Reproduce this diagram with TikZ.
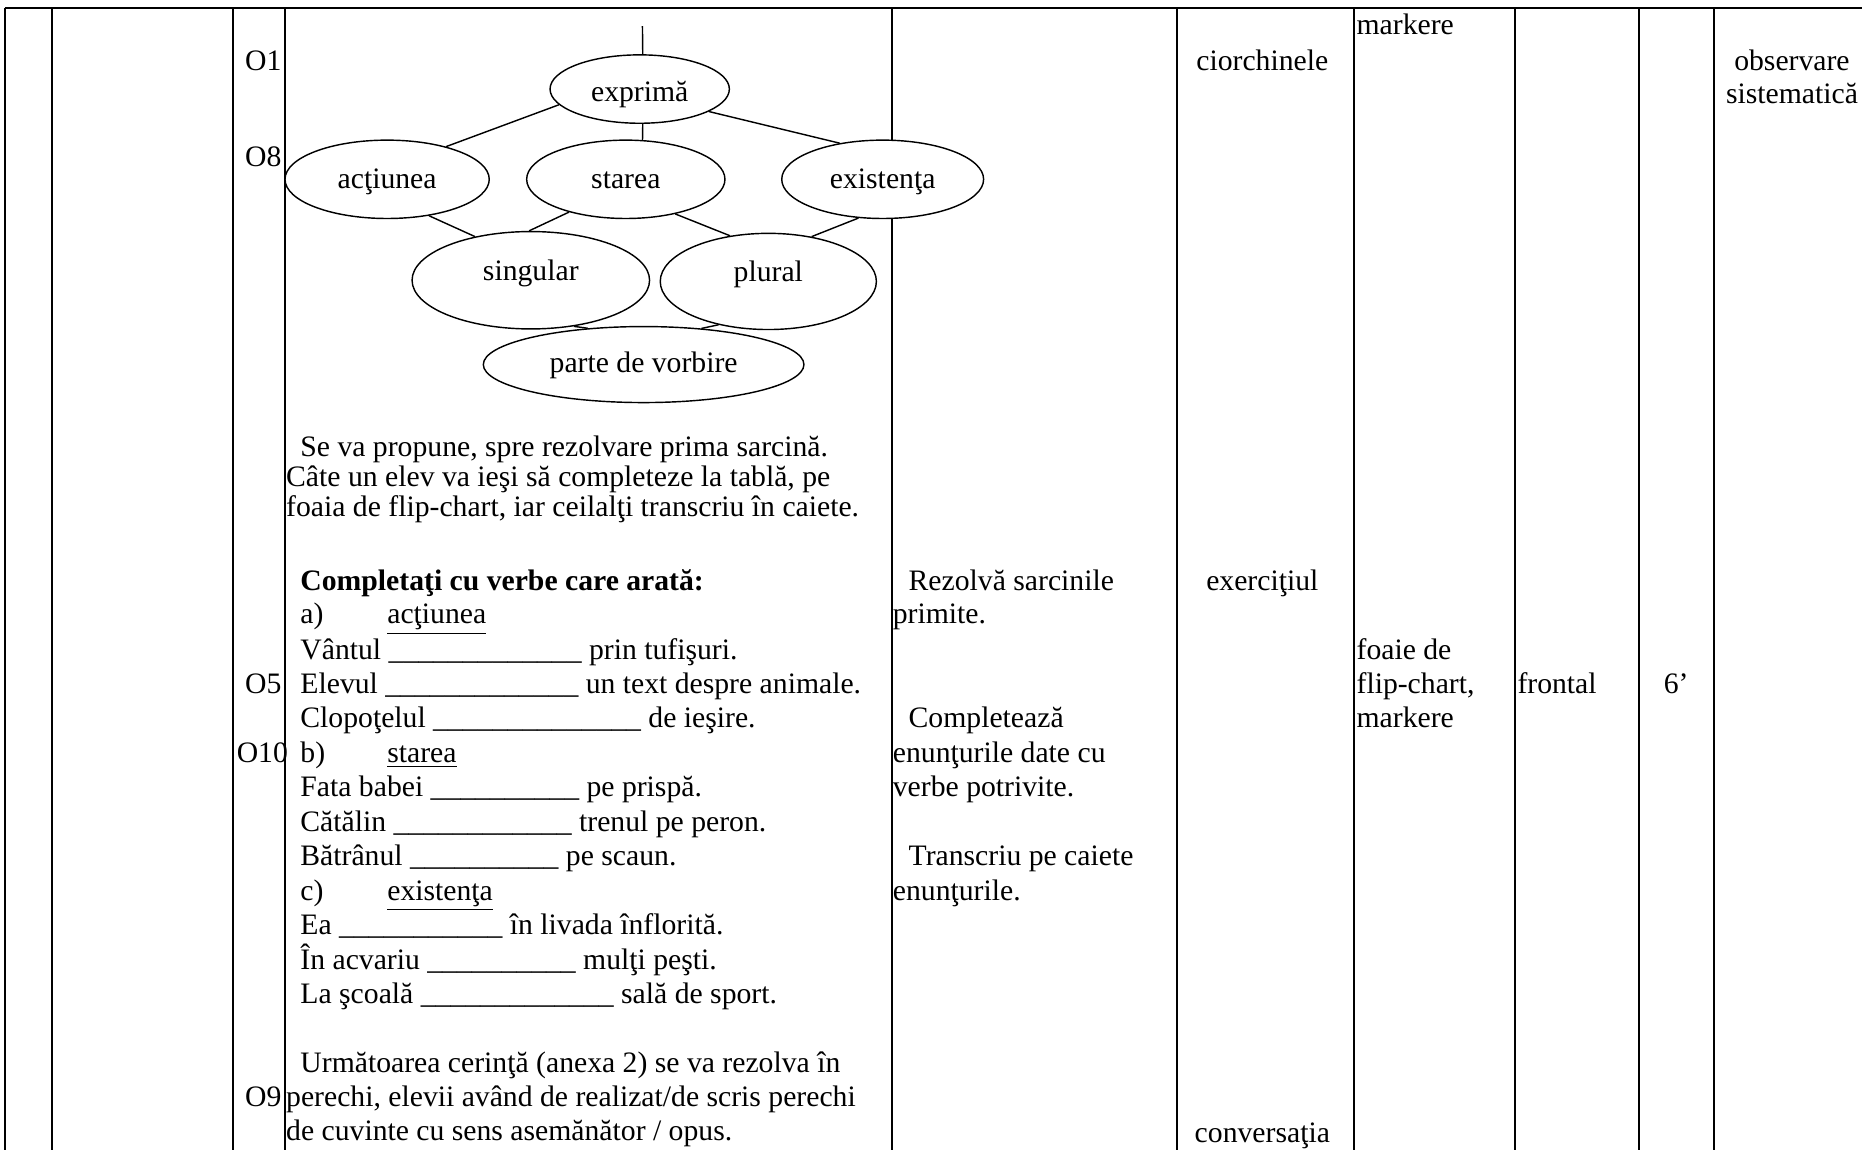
\documentclass[tikz,border=0pt]{standalone}
\usepackage{fontspec}
\setmainfont{Liberation Serif}
\usetikzlibrary{shapes.geometric}

\newcommand{\gol}[1]{\foreach \i in {1,...,#1}{\_}}

\begin{document}
\fontsize{12.5}{14.5}\selectfont
\begin{tikzpicture}[x=0.5pt, y=-0.5pt,
	every node/.style={inner sep=0pt},
	txt/.style={anchor=base west},
	mid/.style={anchor=base},
	bubble/.style={ellipse, draw, fill=white, line width=0.6pt, text height=7.6pt, text depth=0pt},
	link/.style={line width=0.6pt}]

\useasboundingbox (0,0) rectangle (1568,968);

\draw[line width=0.85pt] (4,6.5) -- (1568,6.5);
\foreach \x in {4, 44, 196, 240, 751, 991, 1140, 1276, 1380, 1443}
   \draw[line width=0.85pt] (\x,6.5) -- (\x,968);


\node[bubble, minimum width=75.5pt, minimum height=28.8pt, text height=10.6pt] (exprima) at (538.7,75) {exprimă};
\node[bubble, minimum width=86pt, minimum height=33pt] (actiunea) at (326,151) {acţiunea};
\node[bubble, minimum width=83.5pt, minimum height=33pt] (starea) at (527,151) {starea};
\node[bubble, minimum width=85pt, minimum height=33pt] (existenta) at (743.3,151) {existenţa};
\node[bubble, minimum width=100pt, minimum height=41pt, text height=4pt, text depth=4pt] (singular) at (447,236) {singular};
\node[bubble, minimum width=91pt, minimum height=40.5pt, text height=4pt, text depth=4pt] (plural) at (647,237) {plural};
\node[bubble, minimum width=135pt, minimum height=32pt, text height=7pt] (parte) at (542,307) {parte de vorbire};

\coordinate (stub) at (541,22);
\draw[link] (stub) -- (exprima.85);
\draw[link] (exprima.191) -- (actiunea.29);
\draw[link] (exprima.275) -- (starea.67);
\draw[link] (exprima.342) -- (existenta.140);
\draw[link] (actiunea.319) -- (singular.142);
\draw[link] (starea.210) -- (singular.92);
\draw[link] (starea.325) -- (plural.130);
\draw[link] (existenta.238) -- (plural.46);
\draw[link] (singular.313) -- (parte.147);
\draw[link] (plural.221) -- (parte.32);

%\draw (240,330) -- (751,330);

\node[txt] (o1) at (206,59) {O1};
\node[txt] (o8) at (206,140) {O8};
\node[txt] (o5) at (206,584) {O5};
\node[txt] (o10) at (199,642) {O10};
\node[txt] (o9) at (206,932) {O9};

\node[txt] (p1a) at (252.6,384) {Se va propune, spre rezolvare prima sarcină.};
\node[txt] (p1b) at (240.6,410) {Câte un elev va ieşi să completeze la tablă, pe};
\node[txt] (p1c) at (240.6,435) {foaia de flip-chart, iar ceilalţi transcriu în caiete.};

\node[txt, font=\bfseries] (cerinta) at (252.6,497) {Completaţi cu verbe care arată:};
\node[txt] (ia) at (252.6,525) {a)};
\node[txt] (ta) at (325.8,525) {\underline{acţiunea}};
\node[txt] (e1) at (252.6,555) {Vântul \gol{13} prin tufişuri.};
\node[txt] (e2) at (252.6,584) {Elevul \gol{13} un text despre animale.};
\node[txt] (e3) at (252.6,613) {Clopoţelul \gol{14} de ieşire.};
\node[txt] (ib) at (252.6,642) {b)};
\node[txt] (tb) at (325.8,642) {\underline{starea}};
\node[txt] (e4) at (252.6,671) {Fata babei \gol{10} pe prispă.};
\node[txt] (e5) at (252.6,700) {Cătălin \gol{12} trenul pe peron.};
\node[txt] (e6) at (252.6,729) {Bătrânul \gol{10} pe scaun.};
\node[txt] (ic) at (252.6,758) {c)};
\node[txt] (tc) at (325.8,758) {\underline{existenţa}};
\node[txt] (e7) at (252.6,787) {Ea \gol{11} în livada înflorită.};
\node[txt] (e8) at (252.6,816) {În acvariu \gol{10} mulţi peşti.};
\node[txt] (e9) at (252.6,845) {La şcoală \gol{13} sală de sport.};

\node[txt] (p2a) at (252.6,903) {Următoarea cerinţă (anexa 2) se va rezolva în};
\node[txt] (p2b) at (240.6,932) {perechi, elevii având de realizat/de scris perechi};
\node[txt] (p2c) at (240.6,960) {de cuvinte cu sens asemănător / opus.};

\node[txt] (r1) at (764.8,497) {Rezolvă sarcinile};
\node[txt] (r2) at (751.5,525) {primite.};
\node[txt] (r3) at (764.8,613) {Completează};
\node[txt] (r4) at (751.5,642) {enunţurile date cu};
\node[txt] (r5) at (751.5,671) {verbe potrivite.};
\node[txt] (r6) at (764.8,729) {Transcriu pe caiete};
\node[txt] (r7) at (751.5,758) {enunţurile.};

\node[mid] (m1) at (1063,59) {ciorchinele};
\node[mid] (m2) at (1063,497) {exerciţiul};
\node[mid] (m3) at (1063,962) {conversaţia};

\node[txt] (mat1) at (1142,29) {markere};
\node[txt] (mat2) at (1142,555) {foaie de};
\node[txt] (mat3) at (1142,584) {flip-chart,};
\node[txt] (mat4) at (1142,613) {markere};

\node[txt] (org) at (1277.5,584) {frontal};
\node[mid] (timp) at (1411.5,584) {6’};

\node[mid] (ev1) at (1509,59) {observare};
\node[mid] (ev2) at (1509,87) {sistematică};

\end{tikzpicture}
\end{document}
